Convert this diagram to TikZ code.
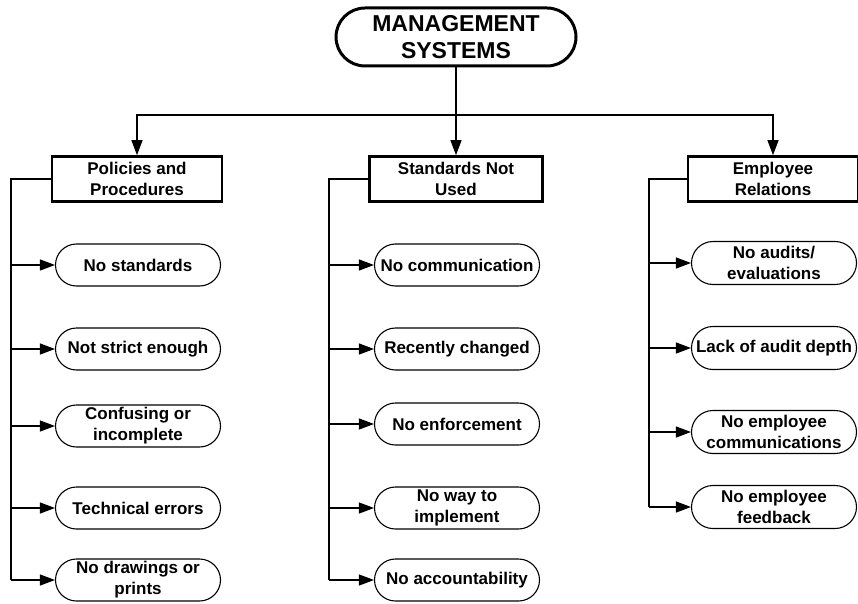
\documentclass[tikz,border=0pt]{standalone}
\usepackage{fontspec}
\setmainfont{Liberation Sans}
\usepackage{tikz}
\usetikzlibrary{
  arrows.meta,
  shapes.misc
}
\tikzset{
  every node/.style={font=\bfseries\fontsize{17}{21}\selectfont,align=center,inner sep=2pt},
  topnode/.style={rounded rectangle,draw,line width=3pt,minimum width=244,minimum height=58,
    font=\bfseries\fontsize{23}{27}\selectfont},
  catbox/.style={rectangle,draw,line width=2.6pt,minimum width=170,minimum height=45},
  itempill/.style={rounded rectangle,draw,line width=1.1pt,minimum width=169,minimum height=42},
  link/.style={line width=1.1pt},
  arr/.style={link,-{Triangle[length=15pt,width=11pt]}},
}

\begin{document}
\begin{tikzpicture}[x=1pt,y=-1pt]
\useasboundingbox (0,0) rectangle (858,604);
\node[topnode] (sys) at (456,37) {MANAGEMENT\\SYSTEMS};
\node[catbox] (pol) at (137,179) {Policies and\\Procedures};
\node[catbox,minimum width=173] (std) at (456,179) {Standards Not\\Used};
\node[catbox] (emp) at (773,179) {Employee\\Relations};
\coordinate (bar) at (456,115);
\draw[link] (sys) -- (bar);
\draw[arr] (bar) -| (pol);
\draw[arr] (bar) -- (std);
\draw[arr] (bar) -| (emp);

% policies and procedures
\node[itempill] (pol1) at (138,265) {No standards};
\node[itempill] (pol2) at (138,349) {Not strict enough};
\node[itempill] (pol3) at (138,426) {Confusing or\\incomplete};
\node[itempill] (pol4) at (138,508) {Technical errors};
\node[itempill] (pol5) at (138,580) {No drawings or\\prints};
\coordinate (polbot) at (11,580);
\draw[link] (pol) -| (polbot);
\draw[arr] (polbot) -- (pol5);
\draw[arr] (pol1.west -| polbot) -- (pol1);
\draw[arr] (pol2.west -| polbot) -- (pol2);
\draw[arr] (pol3.west -| polbot) -- (pol3);
\draw[arr] (pol4.west -| polbot) -- (pol4);

% standards not used
\node[itempill] (std1) at (457,265) {No communication};
\node[itempill] (std2) at (457,349) {Recently changed};
\node[itempill] (std3) at (457,424) {No enforcement};
\node[itempill] (std4) at (457,508) {No way to\\implement};
\node[itempill] (std5) at (457,580) {No accountability};
\coordinate (stdbot) at (329,580);
\draw[link] (std) -| (stdbot);
\draw[arr] (stdbot) -- (std5);
\draw[arr] (std1.west -| stdbot) -- (std1);
\draw[arr] (std2.west -| stdbot) -- (std2);
\draw[arr] (std3.west -| stdbot) -- (std3);
\draw[arr] (std4.west -| stdbot) -- (std4);

% employee relations
\node[itempill,minimum height=43] (emp1) at (774,263) {No audits/\\evaluations};
\node[itempill,minimum height=43] (emp2) at (774,348) {Lack of audit depth};
\node[itempill,minimum height=43] (emp3) at (774,432) {No employee\\communications};
\node[itempill,minimum height=43] (emp4) at (774,507) {No employee\\feedback};
\coordinate (empbot) at (649,507);
\draw[link] (emp) -| (empbot);
\draw[arr] (empbot) -- (emp4);
\draw[arr] (emp1.west -| empbot) -- (emp1);
\draw[arr] (emp2.west -| empbot) -- (emp2);
\draw[arr] (emp3.west -| empbot) -- (emp3);
\end{tikzpicture}
\end{document}
